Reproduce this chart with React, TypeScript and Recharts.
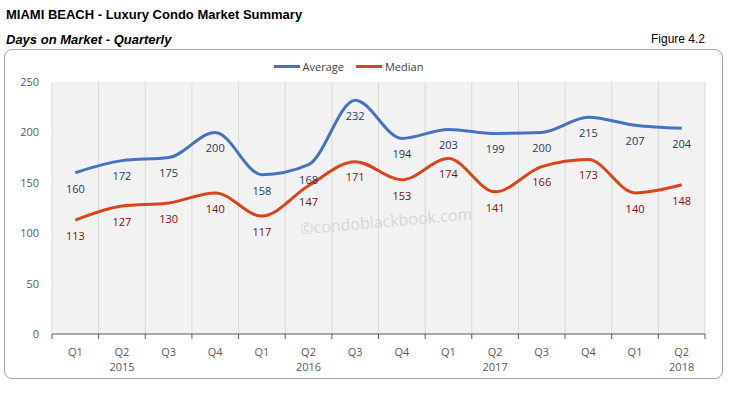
import { CartesianGrid, LabelList, Legend, Line, LineChart, XAxis, YAxis } from 'recharts';

const quarters = ['Q1', 'Q2', 'Q3', 'Q4', 'Q1', 'Q2', 'Q3', 'Q4', 'Q1', 'Q2', 'Q3', 'Q4', 'Q1', 'Q2'];
const years = ['', '2015', '', '', '', '2016', '', '', '', '2017', '', '', '', '2018'];
const average = [160, 172, 175, 200, 158, 168, 232, 194, 203, 199, 200, 215, 207, 204];
const median = [113, 127, 130, 140, 117, 147, 171, 153, 174, 141, 166, 173, 140, 148];
const yTicks = [0, 50, 100, 150, 200, 250];

const data = quarters.map((q, i) => ({
  key: `${q}-${i}`,
  quarter: q,
  year: years[i],
  Average: average[i],
  Median: median[i],
}));

const CHART_W = 718;
const CHART_H = 329;
const Y_AXIS_W = 48;
const M_RIGHT = 17;
const HALF_BAND = (CHART_W - Y_AXIS_W - M_RIGHT) / quarters.length / 2;

const tickFont = "'Open Sans', 'Noto Sans', sans-serif";
const titleFont = "'Liberation Sans Narrow', 'Arial Narrow', 'Liberation Sans', Arial, sans-serif";

// two-line tick: quarter, then the year under Q2; tick marks on band edges
const QuarterTick = (props: any) => {
  const { x, y, payload, index } = props;
  const d = data[index];
  return (
    <g>
      <line x1={x - HALF_BAND} x2={x - HALF_BAND} y1={y - 8} y2={y - 3} stroke="#595959" />
      {index === quarters.length - 1 && (
        <line x1={x + HALF_BAND} x2={x + HALF_BAND} y1={y - 8} y2={y - 3} stroke="#595959" />
      )}
      <text x={x} y={y + 14} textAnchor="middle" fill="#595959" fontSize={11} fontFamily={tickFont}>
        {d ? d.quarter : payload.value}
      </text>
      {d && d.year && (
        <text x={x} y={y + 29} textAnchor="middle" fill="#595959" fontSize={11} fontFamily={tickFont}>
          {d.year}
        </text>
      )}
    </g>
  );
};

const LegendContent = () => (
  <div style={{ display: 'flex', justifyContent: 'center', fontFamily: tickFont, fontSize: 11, color: '#404040' }}>
    {[
      { name: 'Average', color: '#4472c4' },
      { name: 'Median', color: '#d9441a' },
    ].map((s) => (
      <div key={s.name} style={{ display: 'flex', alignItems: 'center', marginRight: 12 }}>
        <div style={{ width: 26, height: 3, background: s.color, marginRight: 3 }} />
        <span>{s.name}</span>
      </div>
    ))}
  </div>
);

export default function App() {
  return (
    <div style={{ position: 'absolute', left: 0, top: 0, width: 734, height: 396, background: '#fff' }}>
      <div style={{ position: 'absolute', left: 6, top: 7, fontFamily: titleFont, fontWeight: 'bold', fontSize: 13, color: '#000' }}>
        MIAMI BEACH - Luxury Condo Market Summary
      </div>
      <div
        style={{
          position: 'absolute',
          left: 6,
          top: 32,
          fontFamily: titleFont,
          fontWeight: 'bold',
          fontStyle: 'italic',
          fontSize: 13,
          color: '#000',
        }}
      >
        Days on Market - Quarterly
      </div>
      <div style={{ position: 'absolute', right: 29, top: 32, fontFamily: titleFont, fontSize: 12, color: '#000' }}>
        Figure 4.2
      </div>
      <div
        style={{
          position: 'absolute',
          left: 4,
          top: 49,
          width: CHART_W - 1,
          height: CHART_H - 1,
          border: '1px solid #a6a6a6',
          borderRadius: 8,
        }}
      />
      <div style={{ position: 'absolute', left: 4, top: 49 }}>
        <LineChart
          width={CHART_W}
          height={CHART_H}
          data={data}
          margin={{ top: 18, right: M_RIGHT, left: 0, bottom: 0 }}
        >
          <CartesianGrid
            fill="#f2f2f2"
            stroke="#d9d9d9"
            horizontal={false}
            verticalCoordinatesGenerator={({ offset }: any) =>
              Array.from({ length: quarters.length + 1 }, (_, i) => offset.left + (i * offset.width) / quarters.length)
            }
          />
          <XAxis
            dataKey="key"
            scale="band"
            interval={0}
            tickLine={false}
            axisLine={{ stroke: '#595959' }}
            height={44}
            tick={<QuarterTick />}
          />
          <YAxis
            width={Y_AXIS_W}
            domain={[0, 250]}
            ticks={yTicks}
            axisLine={false}
            tickLine={false}
            tickMargin={7}
            tick={{ fill: '#595959', fontSize: 11, fontFamily: tickFont }}
          />
          <Legend verticalAlign="top" content={<LegendContent />} wrapperStyle={{ top: 10 }} />
          <Line type="monotone" dataKey="Average" stroke="#4472c4" strokeWidth={3} dot={false} isAnimationActive={false}>
            <LabelList dataKey="Average" position="bottom" offset={12} fill="#1f3864" fontSize={11} fontFamily={tickFont} />
          </Line>
          <Line type="monotone" dataKey="Median" stroke="#d9441a" strokeWidth={3} dot={false} isAnimationActive={false}>
            <LabelList dataKey="Median" position="bottom" offset={12} fill="#7f1010" fontSize={11} fontFamily={tickFont} />
          </Line>
        </LineChart>
      </div>
      <div
        style={{
          position: 'absolute',
          left: 300,
          top: 210,
          transform: 'rotate(-5deg)',
          fontFamily: tickFont,
          fontSize: 16,
          color: '#d6d6d6',
        }}
      >
        ©condoblackbook.com
      </div>
    </div>
  );
}
